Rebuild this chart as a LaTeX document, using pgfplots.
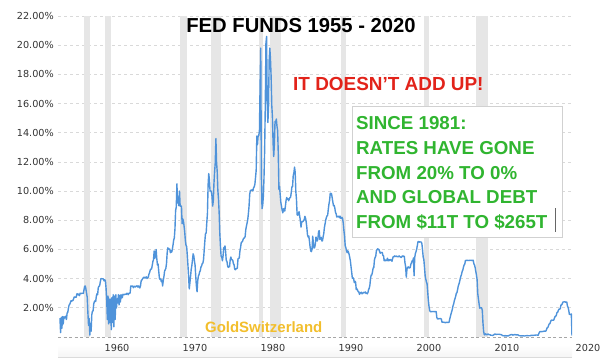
\documentclass[border=0pt]{standalone}
\usepackage{pgfplots}
\pgfplotsset{compat=1.18}
\usepackage{fontspec}
\setmainfont{Liberation Sans}
\newfontfamily\dejavu{DejaVu Sans}
\definecolor{linecol}{HTML}{4F93DA}
\definecolor{bandcol}{HTML}{E6E6E6}
\definecolor{gridcol}{HTML}{D9D9D9}
\definecolor{redtxt}{HTML}{E2231A}
\definecolor{greentxt}{HTML}{30B530}
\definecolor{goldtxt}{HTML}{F2BE2C}
\definecolor{ticktxt}{HTML}{333333}
\begin{document}
\begin{tikzpicture}
\begin{scope}[x=1bp,y=-1bp]
\shade[top color=white, bottom color=black!4] (58,345) rectangle (572,357);
\draw[black!14, line width=0.8bp] (58,357.5) -- (572,357.5);
\end{scope}
\begin{axis}[
  at={(58bp,-337bp)}, anchor=south west,
  scale only axis, width=514bp, height=321bp,
  xmin=1954.25, xmax=2020.17, ymin=0, ymax=22,
  axis line style={draw=none}, major tick length=0pt,
  clip=true,
  ytick={2,4,...,22},
  yticklabel={\pgfmathprintnumber[fixed,fixed zerofill,precision=2]{\tick}\%},
  yticklabel style={anchor=east, inner sep=0pt, xshift=-4bp, font=\dejavu\fontsize{9.7}{11}\selectfont, text=ticktxt},
  xtick={1961.82,1971.82,1981.82,1991.82,2001.82,2011.82},
  xticklabels={1960,1970,1980,1990,2000,2010},
  scaled x ticks=false,
  xticklabel style={anchor=north, inner sep=0pt, yshift=-7.5bp, font=\dejavu\fontsize{9.7}{11}\selectfont, text=ticktxt},
  /pgf/number format/assume math mode=true,
  ymajorgrids, major grid style={gridcol, dash pattern=on 3bp off 3bp, line width=0.7bp},
  extra y ticks={0}, extra y tick labels={},
  extra y tick style={major grid style={black!35, dash pattern=on 3bp off 2.5bp, line width=0.7bp}},
]
% recession bands
\addplot[fill=bandcol, draw=none, forget plot] coordinates {(1957.58,22) (1958.29,22)} \closedcycle;
\addplot[fill=bandcol, draw=none, forget plot] coordinates {(1960.25,22) (1961.08,22)} \closedcycle;
\addplot[fill=bandcol, draw=none, forget plot] coordinates {(1969.92,22) (1970.83,22)} \closedcycle;
\addplot[fill=bandcol, draw=none, forget plot] coordinates {(1973.83,22) (1975.17,22)} \closedcycle;
\addplot[fill=bandcol, draw=none, forget plot] coordinates {(1980.00,22) (1980.55,22)} \closedcycle;
\addplot[fill=bandcol, draw=none, forget plot] coordinates {(1981.50,22) (1982.87,22)} \closedcycle;
\addplot[fill=bandcol, draw=none, forget plot] coordinates {(1990.50,22) (1991.17,22)} \closedcycle;
\addplot[fill=bandcol, draw=none, forget plot] coordinates {(2001.17,22) (2001.87,22)} \closedcycle;
\addplot[fill=bandcol, draw=none, forget plot] coordinates {(2007.92,22) (2009.45,22)} \closedcycle;
% fed funds rate, monthly from July 1954
\addplot[linecol, line width=1.4bp, line join=round] table[row sep=\\, x expr=1954.5+\coordindex/12, y index=0] {
r\\
1.30\\0.30\\1.35\\0.60\\1.40\\0.90\\
1.39\\1.29\\1.35\\1.43\\1.20\\1.64\\1.68\\1.96\\2.18\\2.24\\2.35\\2.48\\
2.45\\2.50\\2.50\\2.62\\2.75\\2.71\\2.75\\2.73\\2.95\\2.96\\2.88\\2.94\\
2.84\\3.00\\2.96\\3.00\\3.00\\3.00\\2.99\\3.24\\3.47\\3.50\\3.28\\2.98\\
2.72\\1.67\\0.80\\1.26\\0.13\\0.93\\0.40\\1.53\\1.76\\1.80\\2.27\\2.42\\
2.48\\2.43\\2.80\\2.96\\2.90\\3.39\\3.47\\3.50\\3.76\\3.98\\4.00\\3.99\\
3.99\\3.97\\3.84\\3.92\\3.85\\3.32\\2.50\\1.20\\2.80\\0.90\\2.60\\1.00\\
2.60\\0.50\\2.70\\1.00\\2.90\\0.70\\2.80\\1.20\\2.90\\2.00\\2.61\\2.33\\
2.90\\2.20\\2.85\\2.40\\2.90\\2.68\\2.71\\2.93\\2.90\\2.90\\2.94\\2.93\\
2.92\\3.00\\2.98\\2.90\\3.00\\2.99\\3.02\\3.49\\3.48\\3.50\\3.48\\3.38\\
3.48\\3.48\\3.43\\3.47\\3.50\\3.50\\3.42\\3.50\\3.45\\3.36\\3.52\\3.85\\
3.90\\3.98\\4.04\\4.09\\4.10\\4.04\\4.09\\4.12\\4.01\\4.08\\4.10\\4.32\\
4.42\\4.60\\4.65\\4.67\\4.90\\5.17\\5.30\\5.90\\5.40\\5.53\\6.00\\5.40\\
4.94\\5.00\\4.53\\4.05\\3.94\\3.98\\3.79\\3.90\\3.50\\3.88\\4.13\\4.51\\
4.61\\4.71\\5.05\\5.76\\6.11\\6.07\\6.02\\6.03\\5.78\\5.91\\5.82\\6.02\\
6.30\\6.64\\6.79\\7.41\\8.67\\8.90\\10.50\\9.19\\9.60\\9.00\\10.00\\8.97\\
8.98\\8.98\\7.76\\8.10\\7.95\\7.61\\7.21\\6.61\\6.29\\6.20\\5.60\\4.90\\
4.14\\3.30\\3.71\\4.16\\4.63\\4.91\\5.31\\5.70\\5.55\\5.20\\4.91\\4.14\\
3.50\\3.10\\3.83\\4.17\\4.27\\4.46\\4.55\\4.80\\4.87\\5.04\\5.06\\5.33\\
5.94\\6.58\\7.09\\7.12\\7.84\\8.49\\10.40\\11.20\\10.78\\10.01\\10.03\\9.95\\
9.65\\8.97\\9.35\\10.51\\11.31\\11.93\\13.60\\12.01\\11.34\\10.06\\9.45\\8.53\\
7.13\\6.24\\5.54\\5.49\\5.22\\5.55\\6.10\\6.14\\6.24\\5.82\\5.22\\5.20\\
4.87\\4.77\\4.84\\4.82\\5.29\\5.48\\5.31\\5.29\\5.25\\5.02\\4.95\\4.65\\
4.61\\4.68\\4.69\\4.73\\5.35\\5.39\\5.42\\5.90\\6.14\\6.47\\6.51\\6.56\\
6.70\\6.78\\6.79\\6.89\\7.36\\7.60\\7.81\\8.04\\8.45\\8.96\\9.76\\10.03\\
10.07\\10.06\\10.09\\10.01\\10.24\\10.29\\10.47\\10.94\\11.43\\13.77\\13.18\\13.78\\
13.82\\14.13\\17.19\\19.80\\10.98\\8.80\\9.03\\9.61\\10.87\\12.81\\15.85\\20.10\\
20.60\\15.93\\14.70\\15.72\\19.00\\19.80\\19.04\\17.82\\15.87\\15.08\\13.31\\12.37\\
13.22\\14.78\\14.68\\14.94\\14.45\\14.15\\12.59\\10.12\\10.31\\9.71\\9.20\\8.95\\
8.68\\8.51\\8.77\\8.80\\8.63\\8.98\\9.37\\9.56\\9.45\\9.48\\9.34\\9.47\\
9.56\\9.59\\9.91\\10.29\\10.32\\11.06\\11.23\\11.64\\11.30\\9.99\\9.43\\8.38\\
8.35\\8.50\\8.58\\8.27\\7.97\\7.53\\7.88\\7.90\\7.92\\7.99\\8.05\\8.27\\
8.14\\7.86\\7.48\\6.99\\6.85\\6.92\\6.56\\6.17\\5.89\\5.85\\6.04\\6.91\\
6.43\\6.10\\6.13\\6.37\\6.85\\6.73\\6.58\\6.73\\7.22\\7.29\\6.69\\6.77\\
6.83\\6.58\\6.58\\6.87\\7.09\\7.51\\7.75\\8.01\\8.19\\8.30\\8.35\\8.76\\
9.12\\9.36\\9.85\\9.84\\9.81\\9.53\\9.24\\8.99\\9.02\\8.84\\8.55\\8.45\\
8.23\\8.24\\8.28\\8.26\\8.18\\8.29\\8.15\\8.13\\8.20\\8.11\\7.81\\7.31\\
6.91\\6.25\\6.12\\5.91\\5.78\\5.90\\5.82\\5.66\\5.45\\5.21\\4.81\\4.43\\
4.03\\4.06\\3.98\\3.73\\3.82\\3.76\\3.25\\3.30\\3.22\\3.10\\3.09\\2.92\\
3.02\\3.03\\3.07\\2.96\\3.00\\3.04\\3.06\\3.03\\3.09\\2.99\\3.02\\2.96\\
3.05\\3.25\\3.34\\3.56\\4.01\\4.25\\4.26\\4.47\\4.73\\4.76\\5.29\\5.45\\
5.53\\5.92\\5.98\\6.05\\6.01\\6.00\\5.85\\5.74\\5.80\\5.76\\5.80\\5.60\\
5.56\\5.22\\5.31\\5.22\\5.24\\5.27\\5.40\\5.22\\5.30\\5.24\\5.31\\5.29\\
5.25\\5.19\\5.39\\5.51\\5.50\\5.56\\5.52\\5.54\\5.54\\5.50\\5.52\\5.50\\
5.56\\5.51\\5.49\\5.45\\5.49\\5.56\\5.54\\5.55\\5.51\\5.07\\4.83\\4.10\\
4.63\\4.76\\4.81\\4.74\\4.74\\4.76\\4.99\\5.07\\5.22\\5.20\\5.42\\4.20\\
5.45\\5.73\\5.85\\6.02\\6.27\\6.53\\6.54\\6.50\\6.52\\6.51\\6.51\\6.40\\
5.98\\5.49\\5.31\\4.80\\4.21\\3.97\\3.77\\3.65\\3.07\\2.49\\2.09\\1.82\\
1.73\\1.74\\1.73\\1.75\\1.75\\1.75\\1.73\\1.74\\1.75\\1.75\\1.34\\1.24\\
1.24\\1.26\\1.25\\1.26\\1.26\\1.22\\1.01\\1.03\\1.01\\1.01\\1.00\\0.98\\
1.00\\1.01\\1.00\\1.00\\1.00\\1.03\\1.26\\1.43\\1.61\\1.76\\1.93\\2.16\\
2.28\\2.50\\2.63\\2.79\\3.00\\3.04\\3.26\\3.50\\3.62\\3.78\\4.00\\4.16\\
4.29\\4.49\\4.59\\4.79\\4.94\\4.99\\5.24\\5.25\\5.25\\5.25\\5.25\\5.24\\
5.25\\5.26\\5.26\\5.25\\5.25\\5.25\\5.26\\5.02\\4.94\\4.76\\4.49\\4.24\\
3.94\\2.98\\2.61\\2.28\\1.98\\2.00\\2.01\\2.00\\1.81\\0.97\\0.39\\0.16\\
0.15\\0.22\\0.18\\0.15\\0.18\\0.21\\0.16\\0.16\\0.15\\0.12\\0.12\\0.12\\
0.11\\0.13\\0.16\\0.20\\0.20\\0.18\\0.18\\0.19\\0.19\\0.19\\0.19\\0.18\\
0.17\\0.16\\0.14\\0.10\\0.09\\0.09\\0.07\\0.10\\0.08\\0.07\\0.08\\0.07\\
0.08\\0.10\\0.13\\0.14\\0.16\\0.16\\0.16\\0.13\\0.14\\0.16\\0.16\\0.16\\
0.14\\0.15\\0.14\\0.15\\0.11\\0.09\\0.09\\0.08\\0.08\\0.09\\0.08\\0.09\\
0.07\\0.07\\0.08\\0.09\\0.09\\0.10\\0.09\\0.09\\0.09\\0.09\\0.09\\0.12\\
0.11\\0.11\\0.11\\0.12\\0.12\\0.13\\0.13\\0.14\\0.14\\0.12\\0.12\\0.24\\
0.34\\0.38\\0.36\\0.37\\0.37\\0.38\\0.39\\0.40\\0.40\\0.40\\0.41\\0.54\\
0.65\\0.66\\0.79\\0.90\\0.91\\1.04\\1.15\\1.16\\1.15\\1.15\\1.16\\1.30\\
1.41\\1.42\\1.51\\1.69\\1.70\\1.82\\1.91\\1.91\\1.95\\2.19\\2.20\\2.27\\
2.40\\2.40\\2.41\\2.42\\2.39\\2.38\\2.40\\2.13\\2.04\\1.83\\1.55\\1.55\\
1.55\\1.58\\0.10\\
};
\end{axis}
\begin{scope}[x=1bp,y=-1bp]
\node[anchor=center, inner sep=0pt, font=\dejavu\fontsize{9.7}{11}\selectfont, text=ticktxt] at (588,348) {2020};
\node[anchor=base, inner sep=0pt, font=\bfseries\fontsize{20.3}{24}\selectfont] at (301,32) {FED FUNDS 1955 - 2020};
\node[anchor=base west, inner sep=0pt, text=redtxt, font=\bfseries\fontsize{19}{22}\selectfont] at (293,90) {IT DOESN’T ADD UP!};
\draw[fill=white, draw=black!18, line width=0.7bp] (352,106) rectangle (562,237);
\begin{scope}[every node/.style={anchor=base west, inner sep=0pt, text=greentxt, font=\bfseries\fontsize{18.8}{22}\selectfont}]
\node at (356,129) {SINCE 1981:};
\node at (356,154) {RATES HAVE GONE};
\node at (356,179) {FROM 20\% TO 0\%};
\node at (356,203.5) {AND GLOBAL DEBT};
\node at (356,228) {FROM \$11T TO \$265T};
\end{scope}
\draw[black!60, line width=0.6bp] (555.5,208) -- (555.5,232);
\node[anchor=base west, inner sep=0pt, text=goldtxt, font=\bfseries\fontsize{15}{18}\selectfont] at (205,332) {GoldSwitzerland};
\pgfresetboundingbox
\path[use as bounding box] (0,0) rectangle (600,360);
\end{scope}
\end{tikzpicture}
\end{document}
